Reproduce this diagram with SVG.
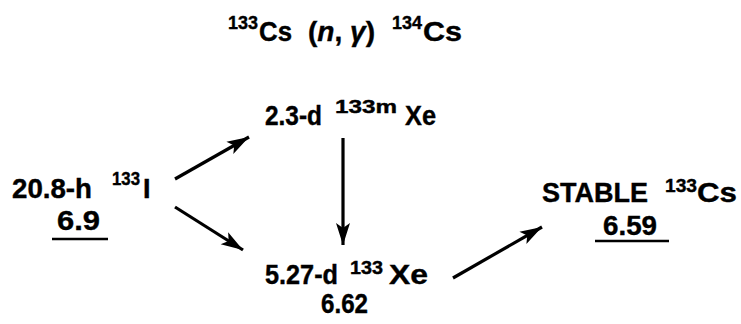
<svg xmlns="http://www.w3.org/2000/svg" width="741" height="324" viewBox="0 0 741 324">
<defs>
<style>
text{font-family:"Liberation Sans",Arial,sans-serif;font-weight:bold;fill:#000;stroke:#000;stroke-width:0.4;}
.m{font-size:27px;}
.s{font-size:19px;}
.c line{stroke:#000;stroke-width:3.2;marker-end:url(#ah);}
.u{stroke:#000;stroke-width:2.5;}
</style>
<marker id="ah" markerUnits="userSpaceOnUse" markerWidth="24" markerHeight="16" refX="22" refY="8" orient="auto">
<path d="M0,1 L22,8 L0,15 L5,8 Z" fill="#000"/>
</marker>
</defs>
<rect width="741" height="324" fill="#fff"/>
<g id="title">
<text class="s" x="228" y="29" textLength="30" lengthAdjust="spacingAndGlyphs">133</text>
<text class="m" x="259" y="41" textLength="33" lengthAdjust="spacingAndGlyphs">Cs</text>
<text class="m" x="308" y="41" textLength="67" lengthAdjust="spacingAndGlyphs">(<tspan font-style="italic">n</tspan>, <tspan font-style="italic">γ</tspan>)</text>
<text class="s" x="392" y="29" textLength="30" lengthAdjust="spacingAndGlyphs">134</text>
<text class="m" x="423" y="41" textLength="39" lengthAdjust="spacingAndGlyphs">Cs</text>
</g>
<g id="i133">
<text class="m" x="12" y="198" textLength="80" lengthAdjust="spacingAndGlyphs">20.8-h</text>
<text class="s" x="112" y="185" textLength="28" lengthAdjust="spacingAndGlyphs">133</text>
<text class="m" x="143" y="198">I</text>
<text class="m" x="57" y="230" textLength="43" lengthAdjust="spacingAndGlyphs">6.9</text>
<line class="u" x1="52" y1="239" x2="108" y2="239"/>
</g>
<g id="xe133m">
<text class="m" x="265" y="125" textLength="57" lengthAdjust="spacingAndGlyphs">2.3-d</text>
<text class="s" x="335" y="113" textLength="62" lengthAdjust="spacingAndGlyphs">133m</text>
<text class="m" x="405" y="125" textLength="31" lengthAdjust="spacingAndGlyphs">Xe</text>
</g>
<g id="xe133">
<text class="m" x="265" y="284" textLength="73" lengthAdjust="spacingAndGlyphs">5.27-d</text>
<text class="s" x="350" y="274" textLength="33" lengthAdjust="spacingAndGlyphs">133</text>
<text class="m" x="389" y="284" textLength="39" lengthAdjust="spacingAndGlyphs">Xe</text>
<text class="m" x="321" y="313" textLength="47" lengthAdjust="spacingAndGlyphs">6.62</text>
</g>
<g id="cs133">
<text class="m" x="542" y="202" textLength="106" lengthAdjust="spacingAndGlyphs">STABLE</text>
<text class="s" x="665" y="192" textLength="32" lengthAdjust="spacingAndGlyphs">133</text>
<text class="m" x="697" y="202" textLength="40" lengthAdjust="spacingAndGlyphs">Cs</text>
<text class="m" x="603" y="235" textLength="54" lengthAdjust="spacingAndGlyphs">6.59</text>
<line class="u" x1="595" y1="241" x2="669" y2="241"/>
</g>
<g id="connectors" class="c">
<line x1="175" y1="179" x2="249" y2="137"/>
<line x1="175" y1="207" x2="243" y2="250"/>
<line x1="343" y1="138" x2="343" y2="245"/>
<line x1="453" y1="278" x2="542" y2="227"/>
</g>
</svg>
